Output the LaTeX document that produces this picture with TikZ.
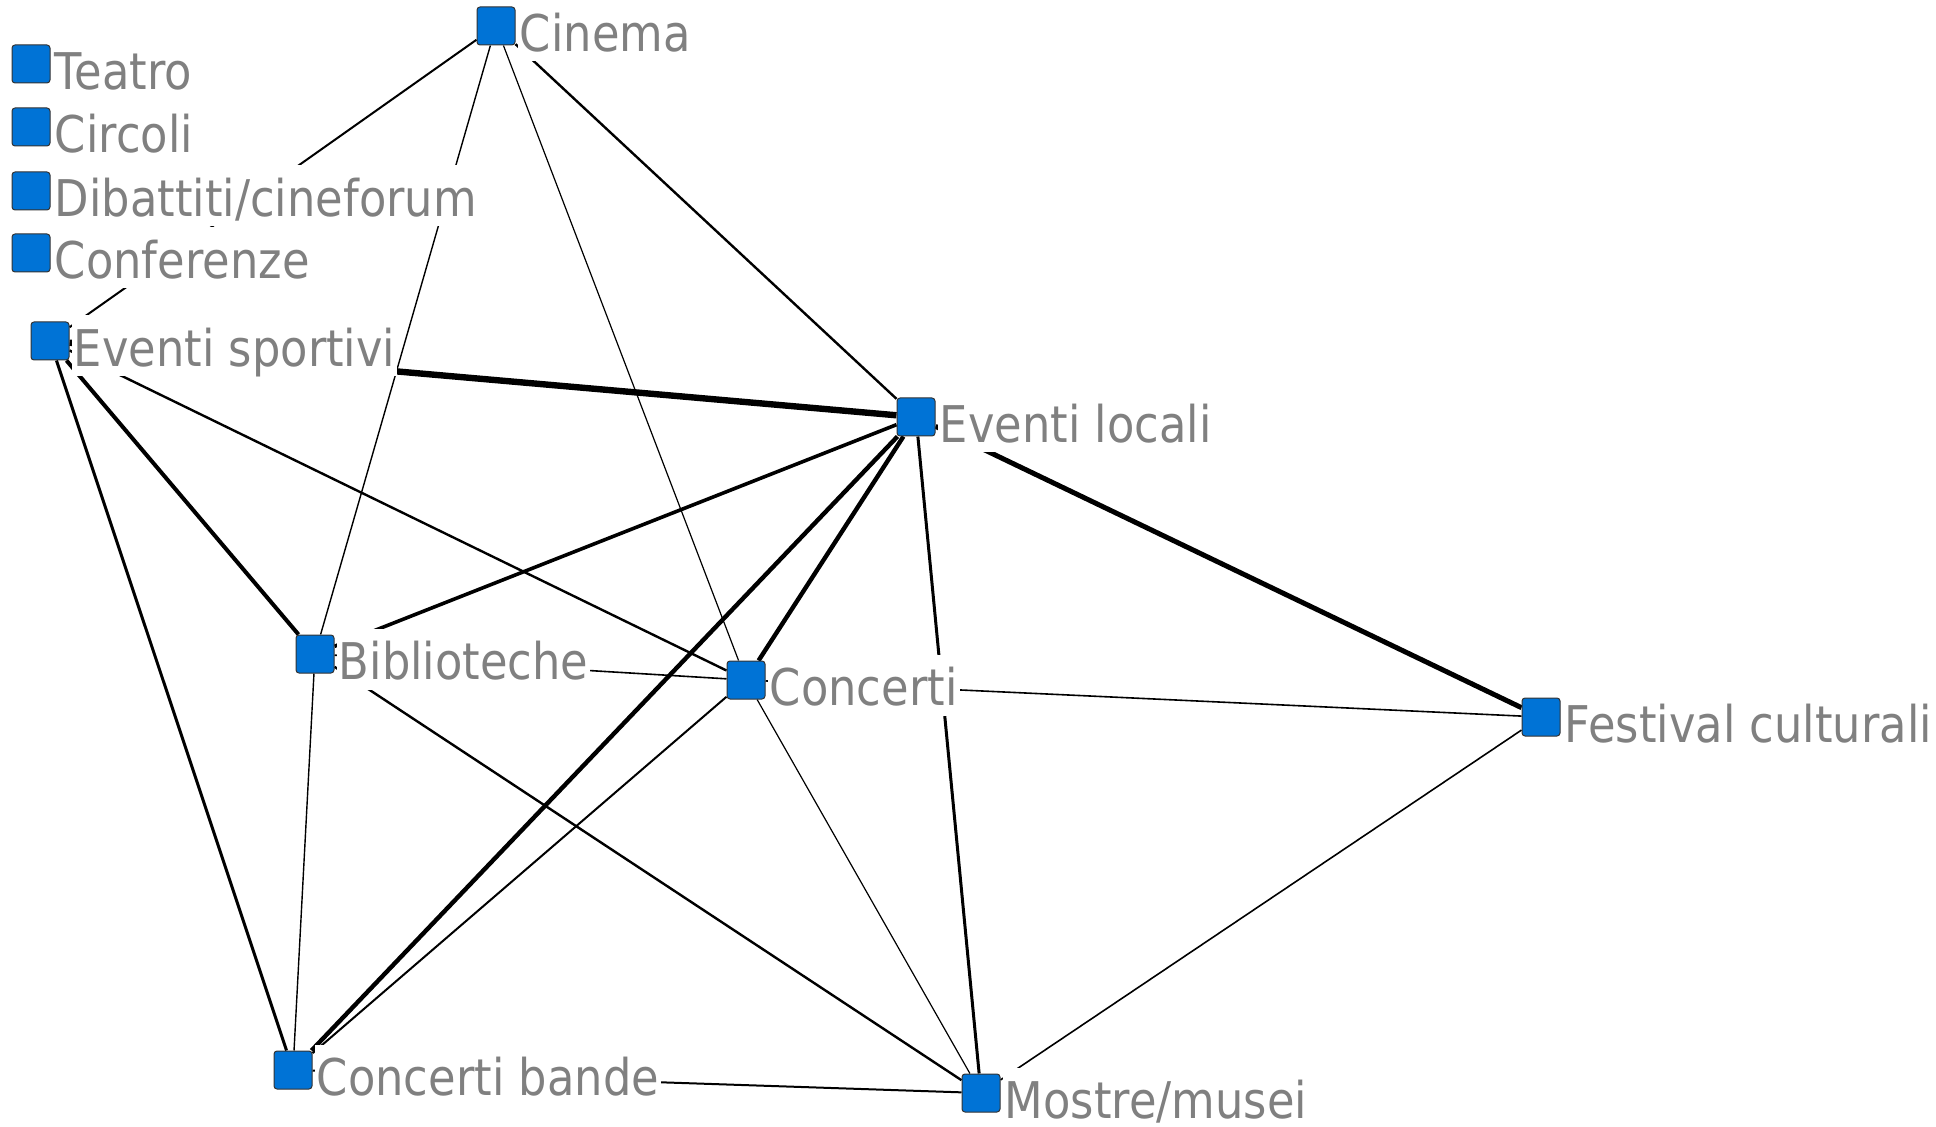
\documentclass[tikz,border=0pt]{standalone}
\usepackage{fontspec}
\setmainfont{DejaVu Sans}[FakeStretch=0.885]
\usetikzlibrary{positioning}
\pgfdeclarelayer{edges}
\pgfsetlayers{edges,main}
\definecolor{actorblue}{HTML}{0073D6}
\definecolor{labelgray}{HTML}{808080}
\begin{document}
\begin{tikzpicture}[x=0.5pt,y=-0.5pt,
  actor/.style={draw=black!80,fill=actorblue,rounded corners=1.5pt,
    minimum size=19pt,inner sep=0pt,line width=0.5pt},
  tag/.style={fill=white,text=labelgray,inner sep=1pt,text height=24.5pt,
    text depth=4pt,font=\fontsize{25.3}{30}\selectfont,yshift=-2.5pt}]
\useasboundingbox (0,0) rectangle (1936,1127);
% actors
\node[actor] (cin) at (496,26) {};
\node[actor] (tea) at (31,64) {};
\node[actor] (cir) at (31,127) {};
\node[actor] (dib) at (31,191) {};
\node[actor] (conf) at (31,253) {};
\node[actor] (es) at (50,341) {};
\node[actor] (el) at (916,417) {};
\node[actor] (bib) at (315,654) {};
\node[actor] (conc) at (746,680) {};
\node[actor] (fest) at (1541,717) {};
\node[actor] (cb) at (293,1070) {};
\node[actor] (mos) at (981,1093) {};
% labels
\node[tag,right=1pt of cin] (cinl) {Cinema};
\node[tag,right=1pt of tea] (teal) {Teatro};
\node[tag,right=1pt of cir] (cirl) {Circoli};
\node[tag,right=1pt of dib] (dibl) {Dibattiti/cineforum};
\node[tag,right=1pt of conf] (confl) {Conferenze};
\node[tag,right=1pt of es] (esl) {Eventi sportivi};
\node[tag,right=1pt of el] (ell) {Eventi locali};
\node[tag,right=1pt of bib] (bibl) {Biblioteche};
\node[tag,right=1pt of conc] (concl) {Concerti};
\node[tag,right=1pt of fest] (festl) {Festival culturali};
\node[tag,right=1pt of cb] (cbl) {Concerti bande};
\node[tag,right=1pt of mos] (mosl) {Mostre/musei};
% ties
\begin{pgfonlayer}{edges}
\draw[line width=1pt] (cin) -- (es);
\draw[line width=0.7pt] (cin) -- (bib);
\draw[line width=0.6pt] (cin) -- (conc);
\draw[line width=1.2pt] (cin) -- (el);
\draw[line width=3.2pt] (es) -- (el);
\draw[line width=2pt] (es) -- (bib);
\draw[line width=1.2pt] (es) -- (conc);
\draw[line width=1.5pt] (es) -- (cb);
\draw[line width=1.8pt] (el) -- (bib);
\draw[line width=2.2pt] (el) -- (conc);
\draw[line width=2.2pt] (el) -- (cb);
\draw[line width=1.5pt] (el) -- (mos);
\draw[line width=2.5pt] (el) -- (fest);
\draw[line width=0.8pt] (bib) -- (conc);
\draw[line width=0.7pt] (bib) -- (cb);
\draw[line width=1.2pt] (bib) -- (mos);
\draw[line width=0.8pt] (conc) -- (fest);
\draw[line width=1pt] (conc) -- (cb);
\draw[line width=0.6pt] (conc) -- (mos);
\draw[line width=0.8pt] (fest) -- (mos);
\draw[line width=1pt] (cb) -- (mos);
\end{pgfonlayer}
\end{tikzpicture}
\end{document}
